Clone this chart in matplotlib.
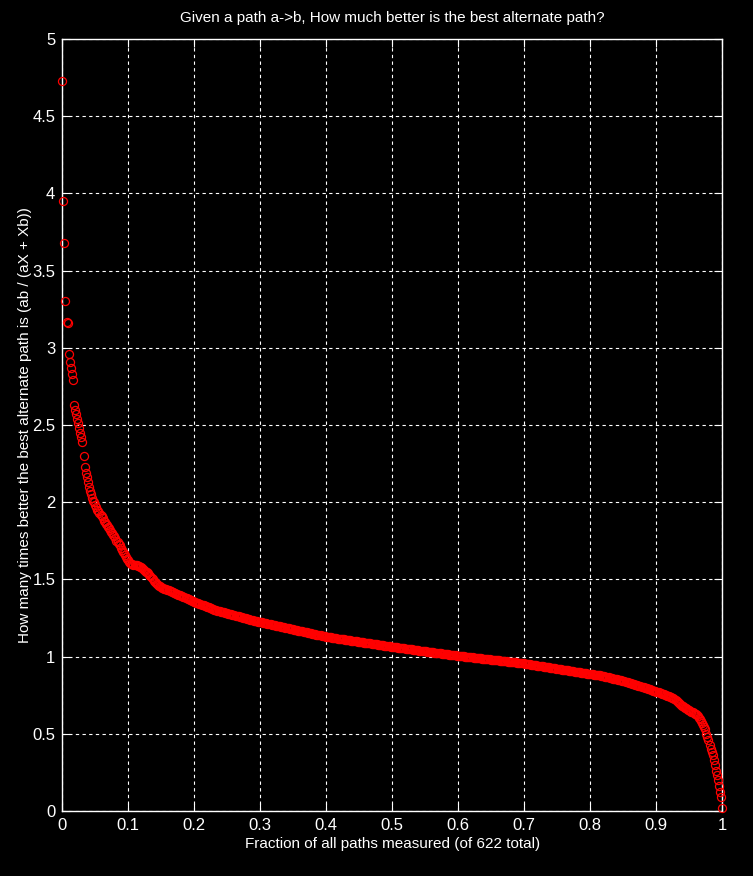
import numpy as np
import matplotlib
matplotlib.use('Agg')
from matplotlib import pyplot as plt

# ratio ab / (aX + Xb) for every measured path, sorted from best to worst
steep_head = [
    4.73, 3.95, 3.68, 3.30, 3.17, 3.16, 2.96, 2.91, 2.87, 2.83, 2.79,
    2.63, 2.60, 2.57, 2.54, 2.51, 2.48, 2.45, 2.42, 2.39,
    2.30, 2.23, 2.19, 2.16, 2.13, 2.10, 2.07, 2.05, 2.03, 2.01, 2.00,
    1.98, 1.97, 1.95, 1.94, 1.93, 1.92, 1.91, 1.90, 1.88,
    1.87, 1.86, 1.85, 1.84, 1.83, 1.82, 1.81, 1.80, 1.79, 1.78,
    1.765, 1.75, 1.74, 1.73, 1.72, 1.705, 1.69, 1.68, 1.67, 1.655,
    1.645, 1.635, 1.625, 1.615, 1.605,
    1.60, 1.598, 1.596, 1.594, 1.592, 1.59, 1.588, 1.586, 1.583, 1.578,
    1.572, 1.566, 1.56, 1.555, 1.55, 1.545, 1.54,
    1.53, 1.52, 1.51, 1.50, 1.49, 1.48, 1.475, 1.47, 1.465, 1.46, 1.455, 1.45,
]

upper_body = [
    1.447, 1.444, 1.441, 1.438, 1.435, 1.432, 1.429, 1.426, 1.423, 1.420,
    1.417, 1.414, 1.411, 1.408, 1.405, 1.402, 1.399, 1.396, 1.393, 1.390,
    1.387, 1.384, 1.381, 1.378, 1.375, 1.372, 1.369, 1.366, 1.363, 1.360,
    1.355, 1.352, 1.350, 1.347, 1.344, 1.342, 1.339, 1.336, 1.334, 1.331,
    1.329, 1.326, 1.323, 1.321, 1.318, 1.315, 1.313, 1.310, 1.308, 1.305,
    1.302, 1.300,
    1.298, 1.296, 1.294, 1.292, 1.290, 1.288, 1.287, 1.285, 1.283, 1.281,
    1.279, 1.277, 1.275, 1.273, 1.271, 1.269, 1.268, 1.266, 1.264, 1.262,
    1.260, 1.258, 1.256, 1.254, 1.252, 1.250, 1.249, 1.247, 1.245, 1.243,
    1.241, 1.239, 1.237, 1.235, 1.233, 1.231, 1.230, 1.228, 1.226, 1.225,
    1.224,
    1.222, 1.221, 1.219, 1.218, 1.216, 1.215, 1.213, 1.212, 1.210, 1.209,
    1.207, 1.206, 1.204, 1.203, 1.201, 1.199, 1.198, 1.196, 1.195, 1.193,
    1.192, 1.190, 1.189, 1.187, 1.186, 1.184, 1.183, 1.181, 1.180, 1.178,
    1.176, 1.175, 1.173, 1.172, 1.170, 1.169, 1.167, 1.166, 1.164, 1.163,
    1.161, 1.160, 1.158, 1.157, 1.155, 1.153, 1.152, 1.150, 1.149, 1.147,
    1.146, 1.144, 1.143, 1.141, 1.140, 1.138, 1.137, 1.135, 1.134, 1.132,
    1.131, 1.129,
]

mid_body = [
    1.128, 1.127, 1.126, 1.125, 1.124, 1.123, 1.122, 1.121, 1.120, 1.118,
    1.117, 1.116, 1.115, 1.114, 1.113, 1.112, 1.111, 1.110, 1.109, 1.108,
    1.107, 1.106, 1.105, 1.104, 1.103, 1.102, 1.101, 1.100, 1.099, 1.097,
    1.096, 1.095, 1.094, 1.093, 1.092, 1.091, 1.090, 1.089, 1.088, 1.087,
    1.086, 1.085, 1.084, 1.083, 1.082, 1.081, 1.080, 1.079, 1.078, 1.076,
    1.075, 1.074, 1.073, 1.072, 1.071, 1.070, 1.069, 1.068, 1.067, 1.066,
    1.065, 1.064,
    1.063, 1.062, 1.061, 1.060, 1.059, 1.058, 1.057, 1.056, 1.055, 1.055,
    1.054, 1.053, 1.052, 1.051, 1.050, 1.049, 1.048, 1.047, 1.046, 1.045,
    1.044, 1.043, 1.042, 1.041, 1.040, 1.039, 1.038, 1.037, 1.037, 1.036,
    1.035, 1.034, 1.033, 1.032, 1.031, 1.030, 1.029, 1.028, 1.027, 1.026,
    1.025, 1.024, 1.023, 1.022, 1.021, 1.021, 1.020, 1.019, 1.018, 1.017,
    1.016, 1.015, 1.014, 1.013, 1.012, 1.011, 1.010, 1.009, 1.009, 1.008,
    1.007, 1.006, 1.005,
    1.004, 1.003, 1.003, 1.002, 1.001, 1.000, 0.999, 0.999, 0.998, 0.997,
    0.996, 0.995, 0.995, 0.994, 0.993, 0.992, 0.991, 0.991, 0.990, 0.989,
    0.988, 0.987, 0.987, 0.986, 0.985, 0.984, 0.983, 0.983, 0.982, 0.981,
    0.980, 0.979, 0.979, 0.978, 0.977, 0.976, 0.975, 0.975, 0.974, 0.973,
    0.972, 0.971, 0.971, 0.970, 0.969, 0.968, 0.967, 0.967, 0.966, 0.965,
    0.964, 0.963, 0.963, 0.962, 0.961, 0.960, 0.959, 0.959, 0.958, 0.957,
    0.956, 0.955,
]

lower_body = [
    0.954, 0.953, 0.952, 0.951, 0.949, 0.948, 0.947, 0.946, 0.945, 0.944,
    0.943, 0.942, 0.941, 0.940, 0.938, 0.937, 0.936, 0.935, 0.934, 0.933,
    0.932, 0.931, 0.930, 0.929, 0.927, 0.926, 0.925, 0.924, 0.923, 0.922,
    0.921, 0.920, 0.919, 0.918, 0.916, 0.915, 0.914, 0.913, 0.912, 0.911,
    0.910, 0.909, 0.908, 0.907, 0.905, 0.904, 0.903, 0.902, 0.901, 0.900,
    0.899, 0.898, 0.897, 0.896, 0.894, 0.893, 0.892, 0.891, 0.890, 0.889,
    0.888, 0.887,
    0.886, 0.885, 0.884, 0.884, 0.883, 0.882, 0.881, 0.880, 0.879, 0.877,
    0.875, 0.873, 0.872, 0.870, 0.868, 0.866, 0.865, 0.863, 0.861, 0.860,
    0.858, 0.856, 0.855, 0.853, 0.852, 0.851, 0.849, 0.848,
    0.846, 0.844, 0.842, 0.840, 0.838, 0.836, 0.833, 0.831, 0.829, 0.827,
    0.825, 0.823, 0.821, 0.818, 0.816, 0.814, 0.812, 0.810, 0.808, 0.805,
    0.803, 0.801, 0.798, 0.796, 0.794, 0.792, 0.789, 0.787, 0.785, 0.783,
    0.780, 0.778, 0.776, 0.773,
    0.771, 0.768, 0.765, 0.763, 0.760, 0.757, 0.755, 0.752, 0.750, 0.747,
    0.744, 0.742, 0.739, 0.736, 0.734, 0.731,
]

tail = [
    0.725, 0.719, 0.713, 0.707, 0.701, 0.695, 0.689, 0.683, 0.677,
    0.673, 0.669, 0.665, 0.661, 0.656, 0.652, 0.648, 0.644, 0.640, 0.636,
    0.631, 0.627, 0.623,
    0.614, 0.605, 0.595, 0.582, 0.569, 0.556, 0.543, 0.530, 0.50, 0.48,
    0.46, 0.43, 0.40, 0.38, 0.36, 0.33, 0.30, 0.26, 0.23, 0.20,
    0.16, 0.125, 0.09, 0.02,
]

xticks = [0, 0.1, 0.2, 0.3, 0.4, 0.5, 0.6, 0.7, 0.8, 0.9, 1]
xtick_labels = ['0', '0.1', '0.2', '0.3', '0.4', '0.5', '0.6', '0.7', '0.8', '0.9', '1']
yticks = [0, 0.5, 1, 1.5, 2, 2.5, 3, 3.5, 4, 4.5, 5]
ytick_labels = ['0', '0.5', '1', '1.5', '2', '2.5', '3', '3.5', '4', '4.5', '5']

ratios = np.array(steep_head + upper_body + mid_body + lower_body + tail)
n = len(ratios)
frac = np.arange(n) / (n - 1)

plt.rcParams['font.family'] = ['Liberation Sans Narrow', 'Liberation Sans', 'DejaVu Sans']

fig = plt.figure(figsize=(7.53, 8.76), dpi=100, facecolor='black')
ax = fig.add_axes([0.0827, 0.0742, 0.8765, 0.8813])
ax.set_facecolor('black')

ax.plot(frac, ratios, 'o', mfc='none', mec='#ff0000', ms=5.8, mew=0.9,
        clip_on=False, zorder=3)

ax.set_xlim(0, 1)
ax.set_ylim(0, 5)
ax.set_xticks(xticks)
ax.set_xticklabels(xtick_labels)
ax.set_yticks(yticks)
ax.set_yticklabels(ytick_labels)

ax.grid(True, color='white', linestyle=(0, (3, 3)), linewidth=0.8)
for s in ax.spines.values():
    s.set_color('white')
    s.set_linewidth(1.0)
ax.tick_params(colors='white', labelsize=12, direction='in', length=5.5,
               top=True, right=True, pad=5)

ax.set_title('Given a path a->b, How much better is the best alternate path?',
             color='white', fontsize=11, pad=12)
ax.set_xlabel('Fraction of all paths measured (of %d total)' % n,
              color='white', fontsize=11, labelpad=3)
ax.set_ylabel('How many times better the best alternate path is (ab / (aX + Xb))',
              color='white', fontsize=11, labelpad=0)

fig.savefig('out.png', dpi=100, facecolor='black')
